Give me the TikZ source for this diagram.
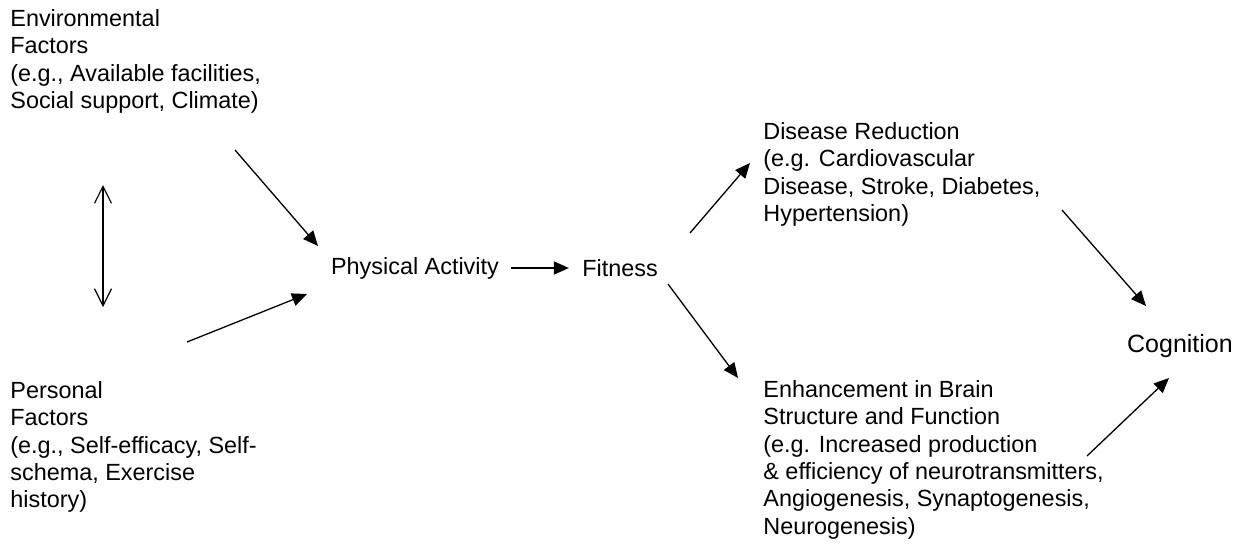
\documentclass[tikz,border=0pt]{standalone}
\usepackage{fontspec}
\setmainfont{Liberation Sans}
\usetikzlibrary{arrows.meta}

\begin{document}
\begin{tikzpicture}[x=0.5pt,y=-0.5pt,
  txt/.style={inner sep=0pt,align=left,font=\fontsize{11.7}{13.7}\selectfont},
  arr/.style={line width=0.65pt,-{Triangle[length=7.5pt,width=6.5pt]}},
  dblarr/.style={line width=0.6pt,{Straight Barb[length=8.5pt,width=8.5pt]}-{Straight Barb[length=8.5pt,width=8.5pt]}}]
\useasboundingbox (0,0) rectangle (1244,547);

% Factors
\node[txt,anchor=north west] (env) at (10,9) {Environmental\\Factors\\(e.g., Available facilities,\\Social support, Climate)};
\node[txt,anchor=north west] (pers) at (10,381) {Personal\\Factors\\(e.g., Self-efficacy, Self-\\schema, Exercise\\history)};

% Main chain
\node[txt] (pa) at (415,268) {Physical Activity};
\node[txt] (fit) at (620,268) {Fitness};

% Outcomes
\node[txt,anchor=north west] (dis) at (763,122) {Disease Reduction\\(e.g. Cardiovascular\\Disease, Stroke, Diabetes,\\Hypertension)};
\node[txt,anchor=north west] (brain) at (763,380) {Enhancement in Brain\\Structure and Function\\(e.g. Increased production\\\& efficiency of neurotransmitters,\\Angiogenesis, Synaptogenesis,\\Neurogenesis)};
\node[txt,font=\fontsize{12.5}{15}\selectfont] (cog) at (1180,346) {Cognition};

% Arrow ends
\coordinate (env-dn) at (103,185);
\coordinate (pers-up) at (103,307);
\coordinate (env-out) at (235,150);
\coordinate (pa-in1) at (318,246);
\coordinate (pers-out) at (187,342);
\coordinate (pa-in2) at (307,294);
\coordinate (fit-up) at (690,233);
\coordinate (dis-in) at (750,163);
\coordinate (fit-dn) at (668,284);
\coordinate (brain-in) at (738,378);
\coordinate (dis-out) at (1062,210);
\coordinate (cog-in1) at (1146,306);
\coordinate (brain-out) at (1087,456);
\coordinate (cog-in2) at (1169,378);

\draw[dblarr] (env-dn) -- (pers-up);
\draw[arr] (env-out) -- (pa-in1);
\draw[arr] (pers-out) -- (pa-in2);
\draw[arr,shorten <=6pt,shorten >=6.5pt] (pa.east) -- (fit.west);
\draw[arr] (fit-up) -- (dis-in);
\draw[arr] (fit-dn) -- (brain-in);
\draw[arr] (dis-out) -- (cog-in1);
\draw[arr] (brain-out) -- (cog-in2);
\end{tikzpicture}
\end{document}
